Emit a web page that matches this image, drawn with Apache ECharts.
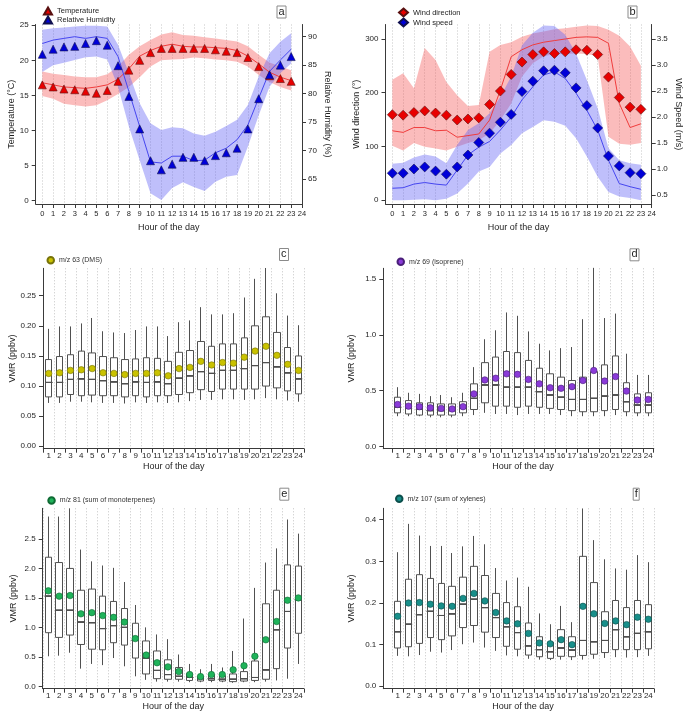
<!DOCTYPE html>
<html><head><meta charset="utf-8">
<script src="https://cdn.jsdelivr.net/npm/echarts@6/dist/echarts.min.js"></script>
<style>html,body{margin:0;padding:0;background:#fff}#c{width:685px;height:714px}</style>
</head><body><div id="c"></div>
<script>
// ---------- data: panels a & b (hour 0..23) ----------
const hours = [0,1,2,3,4,5,6,7,8,9,10,11,12,13,14,15,16,17,18,19,20,21,22,23];
const hourTicks = [0,1,2,3,4,5,6,7,8,9,10,11,12,13,14,15,16,17,18,19,20,21,22,23,24];

const tempMean   = [16.5,16.2,15.9,15.8,15.6,15.3,15.7,17.0,18.6,20.0,21.1,21.7,21.7,21.7,21.7,21.7,21.5,21.3,21.1,20.4,19.1,17.8,17.4,17.0];
const tempMedian = [16.8,16.5,16.2,16.1,16.0,16.2,16.5,17.3,18.8,20.6,21.4,22.0,22.3,22.0,21.9,21.9,21.8,21.7,21.4,20.6,19.5,18.3,17.6,17.1];
const tempHigh   = [18.4,18.1,17.9,17.7,17.6,17.6,18.0,19.1,20.8,22.0,22.9,23.7,24.0,23.6,23.5,23.3,23.1,22.9,22.7,22.0,20.8,19.7,19.1,18.6];
const tempLow    = [14.9,14.5,13.8,13.6,13.4,13.6,14.3,15.2,16.2,17.6,19.1,20.0,20.1,20.2,20.4,20.3,20.1,20.0,19.8,19.1,17.9,16.9,16.2,15.7];

const rhMean   = [86.9,87.8,88.2,88.3,88.8,89.3,88.5,84.9,79.5,73.8,68.2,66.6,67.6,68.8,68.8,68.2,69.1,69.6,70.4,73.8,79.1,83.3,85.0,86.5];
const rhMedian = [88.8,89.4,89.7,90.0,89.7,90.0,89.7,86.5,80.4,74.2,68.0,67.8,69.0,69.0,68.2,68.3,69.6,70.4,71.9,74.5,79.2,83.9,85.9,87.8];
const rhHigh   = [91.2,91.5,91.6,91.8,91.9,91.9,91.8,88.6,83.6,78.3,74.8,73.6,74.1,73.9,73.0,72.6,73.3,74.3,75.4,78.0,83.0,87.1,89.1,90.6];
const rhLow    = [83.8,85.0,85.4,85.9,86.4,86.5,86.0,81.2,74.2,68.3,62.5,61.3,63.4,64.4,63.6,62.9,64.5,65.4,65.7,70.7,76.2,81.2,83.6,85.3];

const wdMean   = [159,158,163,166,162,158,149,151,153,178,203,234,257,271,276,273,276,280,279,271,229,191,173,169];
const wdMedian = [129,126,135,135,129,130,117,120,123,149,205,267,280,289,294,297,300,303,304,303,292,180,135,142];
const wdHigh   = [224,236,208,283,261,220,195,175,177,276,289,294,304,310,314,318,320,323,325,324,317,306,286,250];
const wdLow    = [101,92,106,99,96,92,99,106,112,124,149,180,230,255,268,272,272,273,272,268,118,105,103,106];

const wsMean   = [0.92,0.92,1.00,1.04,0.96,0.90,1.04,1.27,1.51,1.69,1.90,2.05,2.49,2.69,2.89,2.90,2.85,2.56,2.22,1.79,1.25,1.06,0.93,0.91];
const wsMedian = [0.63,0.64,0.71,0.74,0.71,0.69,0.98,1.27,1.42,1.53,1.75,2.00,2.33,2.58,2.81,2.87,2.74,2.46,2.13,1.75,1.17,0.72,0.66,0.61];
const wsHigh   = [1.10,1.12,1.22,1.28,1.24,1.11,1.46,1.75,1.88,2.07,2.39,2.78,3.38,3.62,3.76,3.75,3.58,3.22,2.71,2.17,1.40,1.17,1.11,1.08];
const wsLow    = [0.40,0.40,0.41,0.42,0.40,0.43,0.53,0.72,0.95,1.04,1.30,1.46,1.69,1.81,1.94,1.91,1.83,1.59,1.24,0.85,0.56,0.47,0.44,0.40];

const tempTicks = [0,5,10,15,20,25];
const rhTicks = [65,70,75,80,85,90];
const wdTicks = [0,100,200,300];
const wsTicks = [0.5,1.0,1.5,2.0,2.5,3.0,3.5];

// ---------- data: panels c-f (hour 1..24) ----------
const hourLabels = ['1','2','3','4','5','6','7','8','9','10','11','12','13','14','15','16','17','18','19','20','21','22','23','24'];

const dmsHigh = [0.195,0.199,0.199,0.204,0.213,0.191,0.189,0.188,0.193,0.199,0.199,0.183,0.206,0.209,0.231,0.219,0.219,0.221,0.247,0.278,0.296,0.254,0.217,0.201];
const dmsQ3   = [0.144,0.149,0.152,0.158,0.155,0.149,0.147,0.144,0.145,0.147,0.146,0.141,0.156,0.159,0.174,0.166,0.170,0.170,0.180,0.200,0.215,0.189,0.164,0.150];
const dmsMed  = [0.106,0.106,0.111,0.112,0.111,0.109,0.107,0.104,0.107,0.106,0.107,0.104,0.113,0.117,0.124,0.121,0.126,0.126,0.129,0.134,0.139,0.132,0.122,0.112];
const dmsQ1   = [0.082,0.082,0.086,0.084,0.085,0.084,0.084,0.082,0.084,0.082,0.084,0.084,0.086,0.089,0.094,0.091,0.095,0.095,0.095,0.095,0.100,0.097,0.092,0.087];
const dmsLow  = [0.072,0.072,0.074,0.074,0.073,0.072,0.072,0.071,0.073,0.072,0.073,0.072,0.073,0.075,0.077,0.077,0.078,0.078,0.077,0.078,0.080,0.078,0.076,0.074];
const dmsMean = [0.121,0.122,0.126,0.127,0.129,0.122,0.121,0.119,0.121,0.121,0.122,0.117,0.129,0.131,0.141,0.135,0.139,0.138,0.148,0.158,0.166,0.151,0.136,0.126];
const dmsTicks = [0,0.05,0.10,0.15,0.20,0.25];

const isoHigh = [0.53,0.48,0.47,0.45,0.46,0.44,0.48,0.71,0.96,1.04,1.20,1.17,1.03,0.92,0.86,0.88,0.89,1.14,1.60,1.15,1.19,0.83,0.64,0.64];
const isoQ3   = [0.44,0.41,0.39,0.39,0.38,0.38,0.40,0.56,0.75,0.80,0.85,0.84,0.77,0.70,0.65,0.62,0.59,0.62,0.67,0.73,0.81,0.57,0.47,0.48];
const isoMed  = [0.35,0.34,0.33,0.32,0.32,0.32,0.34,0.43,0.55,0.55,0.53,0.53,0.53,0.49,0.46,0.44,0.42,0.42,0.43,0.45,0.46,0.40,0.37,0.37];
const isoQ1   = [0.30,0.29,0.28,0.28,0.28,0.28,0.30,0.33,0.39,0.36,0.36,0.35,0.36,0.35,0.34,0.33,0.32,0.31,0.31,0.32,0.33,0.31,0.30,0.30];
const isoLow  = [0.27,0.27,0.27,0.26,0.26,0.26,0.27,0.28,0.30,0.29,0.29,0.28,0.29,0.29,0.29,0.28,0.27,0.27,0.27,0.27,0.28,0.27,0.27,0.27];
const isoMean = [0.375,0.36,0.355,0.345,0.34,0.335,0.355,0.47,0.595,0.61,0.65,0.645,0.60,0.56,0.525,0.52,0.535,0.59,0.68,0.585,0.625,0.495,0.415,0.42];
const isoTicks = [0,0.5,1.0,1.5];

const monoHigh = [2.88,2.88,3.02,2.32,2.12,2.05,2.01,1.77,1.38,1.00,0.88,0.80,0.54,0.38,0.29,0.38,0.32,0.60,1.15,1.67,2.10,2.34,2.83,2.59];
const monoQ3   = [2.19,2.10,2.00,1.63,1.65,1.53,1.44,1.32,1.07,0.77,0.60,0.45,0.32,0.22,0.17,0.20,0.18,0.21,0.25,0.43,1.40,1.63,2.06,2.04];
const monoMed  = [1.53,1.29,1.29,1.09,1.08,0.98,1.03,1.00,0.78,0.48,0.27,0.20,0.17,0.15,0.13,0.13,0.12,0.12,0.13,0.15,0.28,0.96,1.27,1.47];
const monoQ1   = [0.91,0.83,0.87,0.71,0.63,0.62,0.74,0.70,0.48,0.21,0.13,0.12,0.12,0.10,0.09,0.10,0.09,0.08,0.09,0.10,0.12,0.30,0.65,0.90];
const monoLow  = [0.51,0.52,0.57,0.30,0.38,0.36,0.48,0.34,0.17,0.11,0.08,0.08,0.08,0.07,0.07,0.07,0.07,0.06,0.07,0.07,0.08,0.10,0.13,0.38];
const monoMean = [1.62,1.53,1.54,1.23,1.25,1.20,1.17,1.09,0.81,0.53,0.40,0.33,0.25,0.20,0.165,0.20,0.20,0.28,0.35,0.51,0.79,1.10,1.46,1.50];
const monoTicks = [0,0.5,1.0,1.5,2.0,2.5];

const xylHigh = [0.322,0.390,0.362,0.337,0.337,0.320,0.336,0.361,0.341,0.284,0.254,0.261,0.239,0.175,0.149,0.193,0.154,0.427,0.351,0.305,0.283,0.280,0.315,0.298];
const xylQ3   = [0.204,0.257,0.268,0.259,0.247,0.240,0.262,0.288,0.266,0.223,0.201,0.191,0.152,0.119,0.106,0.136,0.119,0.312,0.249,0.179,0.206,0.189,0.206,0.196];
const xylMed  = [0.131,0.149,0.172,0.180,0.170,0.174,0.197,0.209,0.189,0.165,0.143,0.129,0.097,0.088,0.083,0.092,0.087,0.110,0.107,0.110,0.136,0.119,0.127,0.131];
const xylQ1   = [0.092,0.095,0.103,0.117,0.112,0.121,0.141,0.146,0.130,0.117,0.096,0.089,0.075,0.071,0.067,0.072,0.071,0.074,0.077,0.081,0.088,0.088,0.088,0.090];
const xylLow  = [0.073,0.072,0.075,0.083,0.081,0.087,0.101,0.105,0.093,0.085,0.074,0.072,0.066,0.064,0.063,0.064,0.063,0.064,0.066,0.068,0.070,0.069,0.070,0.073];
const xylMean = [0.168,0.200,0.201,0.197,0.193,0.192,0.211,0.223,0.205,0.177,0.157,0.150,0.127,0.104,0.102,0.112,0.100,0.192,0.174,0.151,0.157,0.148,0.166,0.161];
const xylTicks = [0,0.1,0.2,0.3,0.4];

// ---------- chart ----------
const FONT = '"Liberation Sans", Arial, sans-serif';
const AX = '#3a3a3a';
const TXT = '#1e1e1e';
const option = {
  animation: false,
  backgroundColor: '#fff',
  textStyle: { fontFamily: FONT },
  grid: [], xAxis: [], yAxis: [], series: [], legend: [], title: []
};
function add(arr, o) { arr.push(o); return arr.length - 1; }

function bandSeries(xi, yi, lo, hi, color) {
  return {
    type: 'custom', xAxisIndex: xi, yAxisIndex: yi, silent: true, z: 1,
    data: hours.map((h, i) => [h, lo[i], hi[i]]),
    encode: { x: 0, y: [1, 2] },
    renderItem: function (params, api) {
      if (params.dataIndex !== 0) return null;
      const pts = [];
      for (let i = 0; i < hours.length; i++) pts.push(api.coord([hours[i], hi[i]]));
      for (let i = hours.length - 1; i >= 0; i--) pts.push(api.coord([hours[i], lo[i]]));
      return { type: 'polygon', shape: { points: pts }, style: { fill: color } };
    }
  };
}
function lineSeries(name, xi, yi, vals, color) {
  return { type: 'line', name: name, xAxisIndex: xi, yAxisIndex: yi, data: hours.map((h, i) => [h, vals[i]]),
    symbol: 'none', lineStyle: { color: color, width: 1 }, z: 3, silent: true };
}
function markSeries(name, xi, yi, vals, symbol, size, color, border) {
  return { type: 'scatter', name: name, xAxisIndex: xi, yAxisIndex: yi, data: hours.map((h, i) => [h, vals[i]]),
    symbol: symbol, symbolSize: size, itemStyle: { color: color, borderColor: border, borderWidth: 0.6, opacity: 1 }, z: 5 };
}
function hourAxis(gi, min) {
  return { gridIndex: gi, type: 'value', min: min, max: 24,
    axisLine: { onZero: false, lineStyle: { color: AX, width: 1 } },
    axisTick: { show: true, customValues: hourTicks, length: 4, lineStyle: { color: AX } },
    axisLabel: { customValues: hourTicks, fontSize: 7.5, margin: 6, color: TXT },
    splitLine: { show: true, lineStyle: { color: '#c4c4c4', type: [1, 2], width: 1 } },
    name: 'Hour of the day', nameLocation: 'middle', nameGap: 19, nameTextStyle: { fontSize: 9, color: TXT } };
}
function valAxis(gi, pos, min, max, ticks, dec, name, gap, extra) {
  return Object.assign({ gridIndex: gi, type: 'value', position: pos, min: min, max: max,
    axisLine: { show: true, onZero: false, lineStyle: { color: AX, width: 1 } },
    axisTick: { show: true, customValues: ticks, length: 4, lineStyle: { color: AX } },
    axisLabel: { customValues: ticks, fontSize: 8, margin: 7, color: TXT, formatter: v => Number(v).toFixed(dec) },
    splitLine: { show: false },
    name: name, nameLocation: 'middle', nameGap: gap, nameTextStyle: { fontSize: 9, color: TXT } }, extra || {});
}
function panelTitle(t, left, top) {
  option.title.push({ text: t, left: left, top: top, padding: [0, 2, 1, 2], borderColor: '#8a8a8a', borderWidth: 1,
    textStyle: { fontSize: 11, fontWeight: 'normal', color: TXT, fontFamily: FONT, lineHeight: 12 } });
}

// ----- panel a -----
const gA = add(option.grid, { left: 35.7, top: 24.5, width: 266.3, height: 179.5 });
const xA = add(option.xAxis, hourAxis(gA, -0.61));
const yT = add(option.yAxis, valAxis(gA, 'left', -0.5, 25.11, tempTicks, 0, 'Temperature (\u00b0C)', 17));
const yRH = add(option.yAxis, valAxis(gA, 'right', 60.6, 92.14, rhTicks, 0, 'Relative Humidity (%)', 21, { nameRotate: -90 }));
option.yAxis[yRH].axisLabel.margin = 6;
option.series.push(bandSeries(xA, yT, tempLow, tempHigh, 'rgba(244,88,88,0.40)'));
option.series.push(bandSeries(xA, yRH, rhLow, rhHigh, 'rgba(96,96,245,0.40)'));
option.series.push(lineSeries('Temperature median', xA, yT, tempMedian, '#f03c3c'));
option.series.push(lineSeries('RH median', xA, yRH, rhMedian, '#4646f0'));
option.series.push(markSeries('Temperature', xA, yT, tempMean, 'triangle', 8, '#e80000', '#5a1010'));
option.series.push(markSeries('Relative Humidity', xA, yRH, rhMean, 'triangle', 8, '#0000d8', '#101050'));
option.legend.push({ data: [{ name: 'Temperature', icon: 'triangle' }, { name: 'Relative Humidity', icon: 'triangle' }],
  orient: 'vertical', left: 38, top: 1.5, itemWidth: 8, itemHeight: 7, itemGap: 0, selectedMode: false,
  textStyle: { fontSize: 7.5, color: TXT, lineHeight: 8.7, fontFamily: FONT } });
panelTitle('a', 276.5, 5.5);

// ----- panel b -----
const gB = add(option.grid, { left: 385.5, top: 24.5, width: 266.2, height: 179.5 });
const xB = add(option.xAxis, hourAxis(gB, -0.63));
const yWD = add(option.yAxis, valAxis(gB, 'left', -7.45, 327.0, wdTicks, 0, 'Wind direction (\u00b0)', 23));
const yWS = add(option.yAxis, valAxis(gB, 'right', 0.327, 3.779, wsTicks, 1, 'Wind Speed (m/s)', 22, { nameRotate: -90 }));
option.yAxis[yWS].axisLabel.margin = 5;
option.series.push(bandSeries(xB, yWD, wdLow, wdHigh, 'rgba(244,88,88,0.40)'));
option.series.push(bandSeries(xB, yWS, wsLow, wsHigh, 'rgba(96,96,245,0.40)'));
option.series.push(lineSeries('WD median', xB, yWD, wdMedian, '#f03c3c'));
option.series.push(lineSeries('WS median', xB, yWS, wsMedian, '#4646f0'));
option.series.push(markSeries('Wind direction', xB, yWD, wdMean, 'diamond', 10, '#e80000', '#5a1010'));
option.series.push(markSeries('Wind speed', xB, yWS, wsMean, 'diamond', 10, '#0000d8', '#101050'));
option.legend.push({ data: [{ name: 'Wind direction', icon: 'diamond' }, { name: 'Wind speed', icon: 'diamond' }],
  orient: 'vertical', left: 393, top: 2.5, itemWidth: 9, itemHeight: 8, itemGap: 0, selectedMode: false,
  textStyle: { fontSize: 7.5, color: TXT, lineHeight: 8.3, fontFamily: FONT } });
panelTitle('b', 627.5, 5.5);

// ----- box panels -----
function boxPanel(p) {
  let gData;
  if (p.firstX - p.axisX > 1) {
    const gFrame = add(option.grid, { left: p.axisX, top: p.top, width: p.rightX - p.axisX, height: p.bottomY - p.top });
    add(option.xAxis, { gridIndex: gFrame, type: 'value', min: 0, max: 1, axisLine: { show: true, onZero: false, lineStyle: { color: AX } },
      axisTick: { show: false }, axisLabel: { show: false }, splitLine: { show: false } });
    add(option.yAxis, { gridIndex: gFrame, type: 'value', show: false, min: 0, max: 1 });
  }
  gData = add(option.grid, { left: p.firstX, top: p.top, width: p.rightX - p.firstX, height: p.bottomY - p.top });
  const xi = add(option.xAxis, { gridIndex: gData, type: 'category', data: hourLabels, boundaryGap: true,
    axisLine: { show: true, onZero: false, lineStyle: { color: AX } },
    axisTick: { show: true, interval: 0, length: 4, lineStyle: { color: AX } },
    axisLabel: { interval: 0, fontSize: 8, margin: 3, color: TXT },
    splitLine: { show: true, interval: 0, lineStyle: { color: '#c4c4c4', type: [1, 2] } },
    name: 'Hour of the day', nameLocation: 'middle', nameGap: 13, nameTextStyle: { fontSize: 9, color: TXT } });
  const yi = add(option.yAxis, valAxis(gData, 'left', p.min, p.max, p.ticks, p.dec, 'VMR (ppbv)', p.nameGap,
    { offset: Math.max(0, p.firstX - p.axisX) }));
  option.series.push({ type: 'candlestick', name: p.name + ' box', xAxisIndex: xi, yAxisIndex: yi, barWidth: 7, silent: true,
    data: hourLabels.map((h, i) => [p.q1[i], p.q3[i], p.lo[i], p.hi[i]]),
    itemStyle: { color: '#ffffff', color0: '#ffffff', borderColor: '#505050', borderColor0: '#505050', borderWidth: 1 }, z: 2 });
  option.series.push({ type: 'boxplot', name: p.name + ' median', xAxisIndex: xi, yAxisIndex: yi, boxWidth: [7, 7], silent: true,
    data: p.med.map(m => [m, m, m, m, m]),
    itemStyle: { color: 'rgba(0,0,0,0)', borderColor: '#505050', borderWidth: 1 }, z: 3 });
  option.series.push({ type: 'scatter', name: p.name, xAxisIndex: xi, yAxisIndex: yi, data: p.mean,
    symbol: 'circle', symbolSize: 6.5, itemStyle: { color: p.color, borderColor: p.border, borderWidth: 0.6, opacity: 1 }, z: 5 });
  option.legend.push({ data: [{ name: p.name, icon: 'circle' }], left: p.legX, top: p.legY, itemWidth: 6.5, itemHeight: 6.5,
    itemGap: 0, selectedMode: false, textStyle: { fontSize: 7, color: '#333', fontFamily: FONT } });
  panelTitle(p.letter, p.tX, p.tY);
}

boxPanel({ name: 'm/z 63 (DMS)', letter: 'c', axisX: 43, firstX: 43.3, rightX: 304, top: 268.3, bottomY: 448.7,
  min: -0.004, max: 0.2955, ticks: dmsTicks, dec: 2, nameGap: 25,
  lo: dmsLow, q1: dmsQ1, med: dmsMed, q3: dmsQ3, hi: dmsHigh, mean: dmsMean,
  color: '#c9c200', border: '#77730a', legX: 41.5, legY: 251, tX: 279, tY: 248 });
boxPanel({ name: 'm/z 69 (isoprene)', letter: 'd', axisX: 383.3, firstX: 392.2, rightX: 653.7, top: 268.3, bottomY: 448.7,
  min: -0.0215, max: 1.596, ticks: isoTicks, dec: 1, nameGap: 27,
  lo: isoLow, q1: isoQ1, med: isoMed, q3: isoQ3, hi: isoHigh, mean: isoMean,
  color: '#8a3ad8', border: '#4a1f7a', legX: 391.5, legY: 252.5, tX: 629.5, tY: 248.3 });
boxPanel({ name: 'm/z 81 (sum of monoterpenes)', letter: 'e', axisX: 42.7, firstX: 42.9, rightX: 303.8, top: 508.3, bottomY: 688.7,
  min: -0.04, max: 3.02, ticks: monoTicks, dec: 1, nameGap: 25,
  lo: monoLow, q1: monoQ1, med: monoMed, q3: monoQ3, hi: monoHigh, mean: monoMean,
  color: '#1fb35a', border: '#0f6a34', legX: 42.3, legY: 491.2, tX: 279.3, tY: 487.7 });
boxPanel({ name: 'm/z 107 (sum of xylenes)', letter: 'f', axisX: 383.3, firstX: 392.2, rightX: 653.8, top: 508.3, bottomY: 688.7,
  min: -0.0058, max: 0.4274, ticks: xylTicks, dec: 1, nameGap: 27,
  lo: xylLow, q1: xylQ1, med: xylMed, q3: xylQ3, hi: xylHigh, mean: xylMean,
  color: '#188f8a', border: '#0b4f4c', legX: 390, legY: 489.5, tX: 632.7, tY: 487.7 });

const chart = echarts.init(document.getElementById('c'), null, { renderer: 'canvas' });
chart.setOption(option);
</script>
</body></html>
